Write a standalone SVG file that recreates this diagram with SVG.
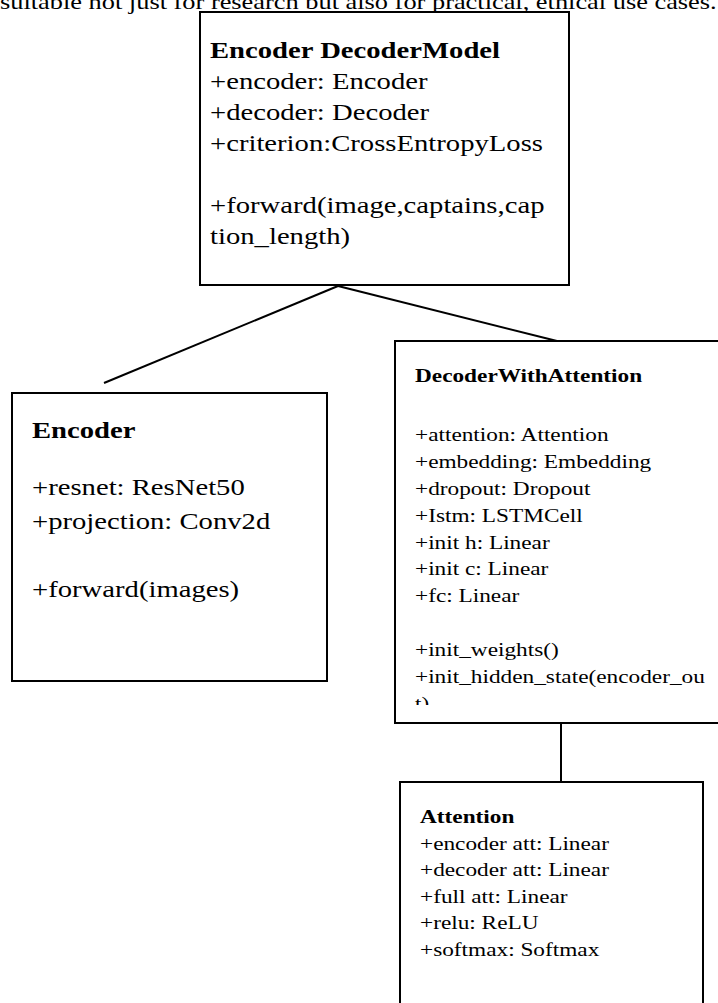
<svg xmlns="http://www.w3.org/2000/svg" width="718" height="1003" viewBox="0 0 718 1003">
<style>
text{font-family:"Liberation Serif","Times New Roman",serif;fill:#000}
.box{fill:#fff;stroke:#000;stroke-width:2}
.conn{stroke:#000;stroke-width:2;fill:none}
.b{font-weight:bold}
.t1{font-size:22.4px}
.t2{font-size:18.2px}
</style>
<defs>
<clipPath id="decClip"><rect x="395" y="341" width="323" height="364"/></clipPath>
</defs>
<rect width="718" height="1003" fill="#fff"/>
<text transform="scale(1.28 1)" x="0" y="9" font-size="20.6px">suitable not just for research but also for practical, ethical use cases.</text>
<g id="connectors">
<line class="conn" x1="338" y1="286" x2="104" y2="383"/>
<line class="conn" x1="338" y1="286" x2="557" y2="341"/>
<line class="conn" x1="561" y1="723" x2="561" y2="782"/>
</g>
<g id="model">
<rect class="box" x="200" y="12" width="369" height="273"/>
<g transform="translate(210 0) scale(1.28 1)">
<text class="t1 b" x="0" y="58">Encoder DecoderModel</text>
<text class="t1" x="0" y="89">+encoder: Encoder</text>
<text class="t1" x="0" y="120">+decoder: Decoder</text>
<text class="t1" x="0" y="151">+criterion:CrossEntropyLoss</text>
<text class="t1" x="0" y="213">+forward(image,captains,cap</text>
<text class="t1" x="0" y="244">tion_length)</text>
</g>
</g>
<g id="encoder">
<rect class="box" x="12" y="393" width="315" height="288"/>
<g transform="translate(32 0) scale(1.28 1)">
<text class="t1 b" x="0" y="438">Encoder</text>
<text class="t1" x="0" y="495">+resnet: ResNet50</text>
<text class="t1" x="0" y="529">+projection: Conv2d</text>
<text class="t1" x="0" y="597">+forward(images)</text>
</g>
</g>
<g id="decoder">
<path class="box" d="M720 341 H395 V723 H720"/>
<g clip-path="url(#decClip)">
<g transform="translate(415 0) scale(1.28 1)">
<text class="t2 b" x="0" y="382">DecoderWithAttention</text>
<text class="t2" x="0" y="441">+attention: Attention</text>
<text class="t2" x="0" y="468">+embedding: Embedding</text>
<text class="t2" x="0" y="495">+dropout: Dropout</text>
<text class="t2" x="0" y="522">+Istm: LSTMCell</text>
<text class="t2" x="0" y="549">+init h: Linear</text>
<text class="t2" x="0" y="575">+init c: Linear</text>
<text class="t2" x="0" y="602">+fc: Linear</text>
<text class="t2" x="0" y="656">+init_weights()</text>
<text class="t2" x="0" y="683">+init_hidden_state(encoder_ou</text>
<text class="t2" x="0" y="710">t)</text>
</g>
</g>
</g>
<g id="attention">
<path class="box" d="M400 1005 V782 H703 V1005"/>
<g transform="translate(420 0) scale(1.28 1)">
<text class="t2 b" x="0" y="823">Attention</text>
<text class="t2" x="0" y="850">+encoder att: Linear</text>
<text class="t2" x="0" y="876">+decoder att: Linear</text>
<text class="t2" x="0" y="903">+full att: Linear</text>
<text class="t2" x="0" y="929">+relu: ReLU</text>
<text class="t2" x="0" y="956">+softmax: Softmax</text>
</g>
</g>
</svg>
